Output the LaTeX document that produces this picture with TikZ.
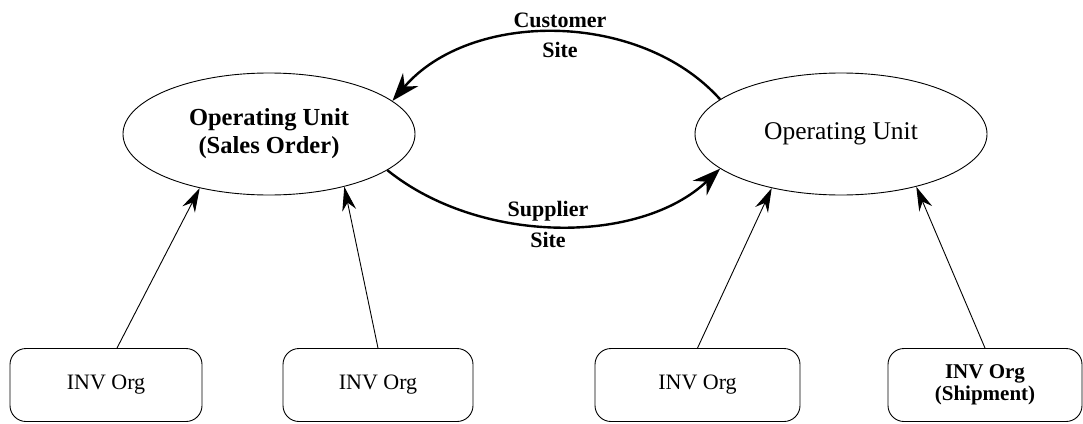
\documentclass[tikz,border=0pt]{standalone}
\usepackage{fontspec}
\setmainfont{Liberation Serif}
\usetikzlibrary{shapes.geometric,arrows.meta}
\begin{document}
\begin{tikzpicture}[x=1pt,y=-1pt,
  ou/.style={ellipse,draw,line width=0.9pt,minimum width=292pt,minimum height=122pt,inner sep=0pt,align=center,font=\fontsize{25.5}{27}\selectfont},
  inv/.style={draw,rounded corners=16pt,line width=0.9pt,minimum height=73pt,inner sep=0pt,align=center,font=\fontsize{22}{23}\selectfont},
  thinarr/.style={line width=0.9pt,-{Stealth[length=24pt,width=14pt]}},
  thickarr/.style={line width=2.4pt,-{Stealth[length=28pt,width=20pt]}},
  lab/.style={font=\bfseries\fontsize{22}{23}\selectfont,inner sep=0pt}]
\useasboundingbox (0,0) rectangle (1083,423);
\node[ou,font=\bfseries\fontsize{24.5}{28}\selectfont] (L) at (269,134) {Operating Unit\\(Sales Order)};
\node[ou] (R) at (841,134) {Operating Unit};
\node[inv,minimum width=192pt] (B1) at (106,385) {INV Org};
\node[inv,minimum width=190pt] (B2) at (378,385) {INV Org};
\node[inv,minimum width=205pt] (B3) at (697.5,385) {INV Org};
\node[inv,minimum width=194pt,font=\bfseries\fontsize{21}{22}\selectfont] (B4) at (985,385) {INV Org\\(Shipment)};
\draw[thickarr] (R.164) .. controls (640,10) and (470,10) .. (L.15);
\draw[thickarr] (L.-17) .. controls (480,245) and (640,245) .. (R.196);
\node[lab] (c1) at (560,20) {Customer};
\node[lab] (c2) at (560,50) {Site};
\node[lab] (s1) at (548,211) {Supplier};
\node[lab] (s2) at (548,240) {Site};
\draw[thinarr] ([xshift=11pt]B1.north) -- (L.218);
\draw[thinarr] (B2.north) -- (L.-35);
\draw[thinarr] (B3.north) -- (R.218);
\draw[thinarr] (B4.north) -- (R.-35);
\end{tikzpicture}
\end{document}
